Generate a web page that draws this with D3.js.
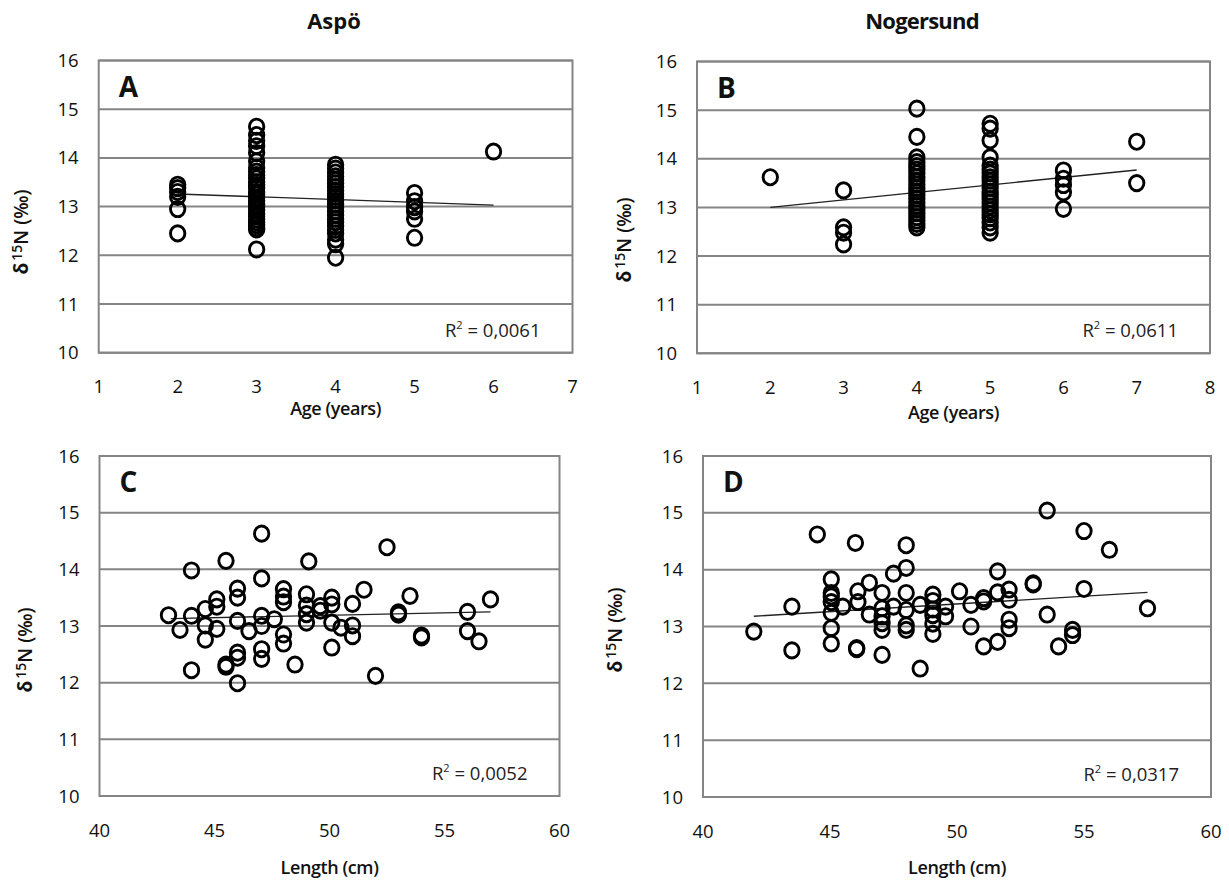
<!DOCTYPE html>
<html>
<head>
<meta charset="utf-8">
<script src="https://cdn.jsdelivr.net/npm/d3@7"></script>
<style>
  body { margin: 0; background: #fff; }
  text { font-family: "Open Sans", "Liberation Sans", sans-serif; fill: #111; }
</style>
</head>
<body>
<svg id="chart" width="1229" height="883"></svg>
<script>
// d15N against age and length, two sites (Aspö, Nogersund)

var yTicks = [10, 11, 12, 13, 14, 15, 16];
var ageTicksA = [1, 2, 3, 4, 5, 6, 7];
var ageTicksB = [1, 2, 3, 4, 5, 6, 7, 8];
var lengthTicks = [40, 45, 50, 55, 60];
var columnTitles = ["Aspö", "Nogersund"];

// A: Aspö, age (years) vs d15N
var aspoAge = [
  [2, 13.45], [2, 13.38], [2, 13.3], [2, 13.2], [2, 12.95], [2, 12.45],
  [3, 14.64], [3, 14.47], [3, 14.35], [3, 14.24], [3, 14.1], [3, 13.93],
  [3, 13.8], [3, 13.72], [3, 13.65], [3, 13.58], [3, 13.5], [3, 13.44],
  [3, 13.38], [3, 13.3], [3, 13.25], [3, 13.18], [3, 13.12], [3, 13.05],
  [3, 13.0], [3, 12.93], [3, 12.86], [3, 12.8], [3, 12.74], [3, 12.68],
  [3, 12.62], [3, 12.56], [3, 12.53], [3, 12.12],
  [4, 13.86], [4, 13.78], [4, 13.7], [4, 13.62], [4, 13.55], [4, 13.48],
  [4, 13.4], [4, 13.33], [4, 13.26], [4, 13.2], [4, 13.12], [4, 13.05],
  [4, 12.98], [4, 12.9], [4, 12.83], [4, 12.75], [4, 12.68], [4, 12.6],
  [4, 12.52], [4, 12.45], [4, 12.32], [4, 12.23], [4, 11.95],
  [5, 13.28], [5, 13.11], [5, 12.99], [5, 12.9], [5, 12.75], [5, 12.36],
  [6, 14.13]
];
var aspoAgeTrend = [[2, 13.26], [6, 13.03]];

// B: Nogersund, age (years) vs d15N
var nogAge = [
  [2, 13.62],
  [3, 13.35], [3, 12.59], [3, 12.48], [3, 12.24],
  [4, 15.03], [4, 14.45], [4, 14.03], [4, 13.93], [4, 13.85], [4, 13.78],
  [4, 13.7], [4, 13.62], [4, 13.55], [4, 13.47], [4, 13.4], [4, 13.33],
  [4, 13.25], [4, 13.18], [4, 13.1], [4, 13.03], [4, 12.96], [4, 12.88],
  [4, 12.8], [4, 12.73], [4, 12.66], [4, 12.59],
  [5, 14.72], [5, 14.62], [5, 14.38], [5, 14.03], [5, 13.86], [5, 13.78],
  [5, 13.7], [5, 13.62], [5, 13.55], [5, 13.47], [5, 13.4], [5, 13.32],
  [5, 13.25], [5, 13.17], [5, 13.1], [5, 13.02], [5, 12.94], [5, 12.86],
  [5, 12.78], [5, 12.69], [5, 12.59], [5, 12.48],
  [6, 13.76], [6, 13.59], [6, 13.46], [6, 13.31], [6, 12.97],
  [7, 14.35], [7, 13.5]
];
var nogAgeTrend = [[2, 13.0], [7, 13.77]];

// C: Aspö, length (cm) vs d15N
var aspoLength = [
  [47.05, 14.63], [45.5, 14.15], [44.0, 13.98], [47.05, 13.84], [49.1, 14.14],
  [46.0, 13.66], [46.0, 13.5], [45.1, 13.47], [45.1, 13.34], [44.6, 13.3],
  [48.0, 13.65], [48.0, 13.52], [48.0, 13.42], [49.0, 13.56], [43.0, 13.19],
  [44.0, 13.18], [43.5, 12.93], [44.6, 13.01], [45.1, 12.95], [44.6, 12.76],
  [46.0, 13.09], [46.5, 12.91], [47.05, 13.18], [47.05, 13.0], [47.6, 13.12],
  [48.0, 12.85], [48.0, 12.69], [47.05, 12.59], [47.05, 12.42], [46.0, 12.53],
  [46.0, 12.44], [45.5, 12.32], [45.5, 12.28], [44.0, 12.22], [46.0, 11.99],
  [48.5, 12.32], [49.0, 13.36], [49.0, 13.21], [49.0, 13.06], [52.5, 14.39],
  [50.1, 13.5], [50.1, 13.38], [50.1, 13.06], [50.1, 12.62], [51.0, 13.39],
  [51.0, 13.01], [51.0, 12.82], [50.5, 12.97], [51.5, 13.64], [49.6, 13.27],
  [49.6, 13.35], [52.0, 12.12], [53.0, 13.24], [53.0, 13.2], [53.5, 13.53],
  [54.0, 12.83], [54.0, 12.8], [56.0, 13.25], [56.0, 12.91], [56.5, 12.73],
  [57.0, 13.47]
];
var aspoLengthTrend = [[43.1, 13.13], [57.0, 13.25]];

// D: Nogersund, length (cm) vs d15N
var nogLength = [
  [44.5, 14.62], [46.0, 14.47], [47.5, 13.93], [43.5, 13.35], [42.0, 12.91],
  [43.5, 12.58], [45.05, 13.83], [45.05, 13.59], [45.05, 13.53], [45.05, 13.43],
  [45.05, 13.24], [45.05, 12.97], [45.05, 12.7], [45.5, 13.35], [46.1, 13.62],
  [46.1, 13.43], [46.55, 13.77], [46.55, 13.21], [46.05, 12.62], [46.05, 12.6],
  [47.05, 13.59], [47.05, 13.32], [47.05, 13.18], [47.05, 13.06], [47.05, 12.94],
  [47.05, 12.5], [47.5, 13.35], [53.55, 15.04], [55.0, 14.68], [48.0, 14.43],
  [48.0, 14.03], [51.6, 13.97], [53.0, 13.76], [53.0, 13.74], [48.0, 13.59],
  [48.0, 13.29], [48.0, 13.02], [48.0, 12.94], [49.05, 13.56], [49.05, 13.45],
  [49.05, 13.3], [49.05, 13.2], [49.05, 13.05], [49.05, 12.87], [48.55, 13.38],
  [49.55, 13.35], [49.55, 13.18], [50.1, 13.62], [50.55, 13.38], [50.55, 13.0],
  [51.05, 13.44], [51.05, 13.5], [51.05, 12.65], [51.6, 12.73], [51.6, 13.6],
  [52.05, 13.65], [52.05, 13.47], [52.05, 13.12], [52.05, 12.97], [53.55, 13.21],
  [54.0, 12.65], [54.55, 12.94], [54.55, 12.85], [55.0, 13.66], [56.0, 14.35],
  [57.5, 13.32], [48.55, 12.26]
];
var nogLengthTrend = [[42.0, 13.18], [57.5, 13.6]];

var svg = d3.select("#chart");

var panels = [
  { letter: "A", r2: "0,0061", xTitle: "Age (years)", pts: aspoAge, trend: aspoAgeTrend,
    xTicks: ageTicksA, x0: 98.7, x1: 572.5, y0: 352.7, y1: 60.5,
    xTitleY: 415, yTitleX: 28, yTitleY: 232 },
  { letter: "B", r2: "0,0611", xTitle: "Age (years)", pts: nogAge, trend: nogAgeTrend,
    xTicks: ageTicksB, x0: 697, x1: 1210, y0: 353.3, y1: 61.5,
    xTitleY: 419, yTitleX: 631, yTitleY: 240 },
  { letter: "C", r2: "0,0052", xTitle: "Length (cm)", pts: aspoLength, trend: aspoLengthTrend,
    xTicks: lengthTicks, x0: 99.5, x1: 559.5, y0: 796, y1: 456,
    xTitleY: 874, yTitleX: 32, yTitleY: 650 },
  { letter: "D", r2: "0,0317", xTitle: "Length (cm)", pts: nogLength, trend: nogLengthTrend,
    xTicks: lengthTicks, x0: 703, x1: 1211, y0: 797, y1: 456,
    xTitleY: 874, yTitleX: 622, yTitleY: 630 }
];

panels.forEach(function(p) {
  var x = d3.scaleLinear()
    .domain(d3.extent(p.xTicks))
    .range([p.x0, p.x1]);
  var y = d3.scaleLinear()
    .domain(d3.extent(yTicks))
    .range([p.y0, p.y1]);

  var g = svg.append("g");

  // horizontal grid
  g.selectAll(".grid")
    .data(yTicks)
    .enter().append("line")
      .attr("x1", p.x0).attr("x2", p.x1)
      .attr("y1", function(d) { return y(d); })
      .attr("y2", function(d) { return y(d); })
      .style("stroke", "#858585")
      .style("stroke-width", 2);

  // frame
  g.append("rect")
    .attr("x", p.x0).attr("y", p.y1)
    .attr("width", p.x1 - p.x0).attr("height", p.y0 - p.y1)
    .style("fill", "none")
    .style("stroke", "#858585")
    .style("stroke-width", 2);

  // y tick labels
  g.selectAll(".ylab")
    .data(yTicks)
    .enter().append("text")
      .attr("x", p.x0 - 20)
      .attr("y", function(d) { return y(d) + 6.5; })
      .attr("text-anchor", "end")
      .attr("font-size", 18.5)
      .attr("font-weight", 500)
      .style("fill", "#111")
      .text(function(d) { return d; });

  // x tick labels
  g.selectAll(".xlab")
    .data(p.xTicks)
    .enter().append("text")
      .attr("x", function(d) { return x(d); })
      .attr("y", p.y0 + 40.5)
      .attr("text-anchor", "middle")
      .attr("font-size", 18.5)
      .attr("font-weight", 500)
      .style("fill", "#111")
      .text(function(d) { return d; });

  // axis titles
  g.append("text")
    .attr("x", (p.x0 + p.x1) / 2)
    .attr("y", p.xTitleY)
    .attr("text-anchor", "middle")
    .attr("font-size", 18)
    .attr("font-weight", 600)
    .attr("letter-spacing", -0.4)
    .text(p.xTitle);

  var yt = g.append("text")
    .attr("transform", "translate(" + p.yTitleX + "," + p.yTitleY + ") rotate(-90)")
    .attr("text-anchor", "middle")
    .attr("font-size", 19)
    .attr("font-weight", 700);
  yt.append("tspan").text("δ");
  yt.append("tspan").attr("dy", -6).attr("dx", 2).attr("font-size", 14).attr("font-weight", 600).text("15");
  yt.append("tspan").attr("dy", 6).attr("font-weight", 600).text("N (‰)");

  // panel letter
  g.append("text")
    .attr("x", p.x0 + 20)
    .attr("y", p.y1 + 36)
    .attr("font-size", 28)
    .attr("font-weight", 700)
    .text(p.letter);

  // R squared
  var rt = g.append("text")
    .attr("x", p.x1 - 32)
    .attr("y", p.y0 - 16)
    .attr("text-anchor", "end")
    .attr("font-size", 18.5)
    .style("fill", "#222");
  rt.append("tspan").text("R");
  rt.append("tspan").attr("dy", -8).attr("font-size", 11).text("2");
  rt.append("tspan").attr("dy", 8).text(" = " + p.r2);

  // trend line
  g.append("path")
    .datum(p.trend)
    .attr("d", d3.line()
      .x(function(d) { return x(d[0]); })
      .y(function(d) { return y(d[1]); }))
    .style("fill", "none")
    .style("stroke", "#222")
    .style("stroke-width", 1.4);

  // points
  g.selectAll(".pt")
    .data(p.pts)
    .enter().append("ellipse")
      .attr("cx", function(d) { return x(d[0]); })
      .attr("cy", function(d) { return y(d[1]); })
      .attr("rx", 7.2)
      .attr("ry", 7.6)
      .style("fill", "none")
      .style("stroke", "#000")
      .style("stroke-width", 2.9);
});

// column headings
svg.selectAll(".coltitle")
  .data(columnTitles)
  .enter().append("text")
    .attr("x", function(d, i) { return i === 0 ? 334 : 922; })
    .attr("y", 29)
    .attr("text-anchor", "middle")
    .attr("font-size", 22)
    .attr("font-weight", 700)
    .attr("letter-spacing", function(d, i) { return i === 0 ? 0 : -0.8; })
    .text(function(d) { return d; });
</script>
</body>
</html>
